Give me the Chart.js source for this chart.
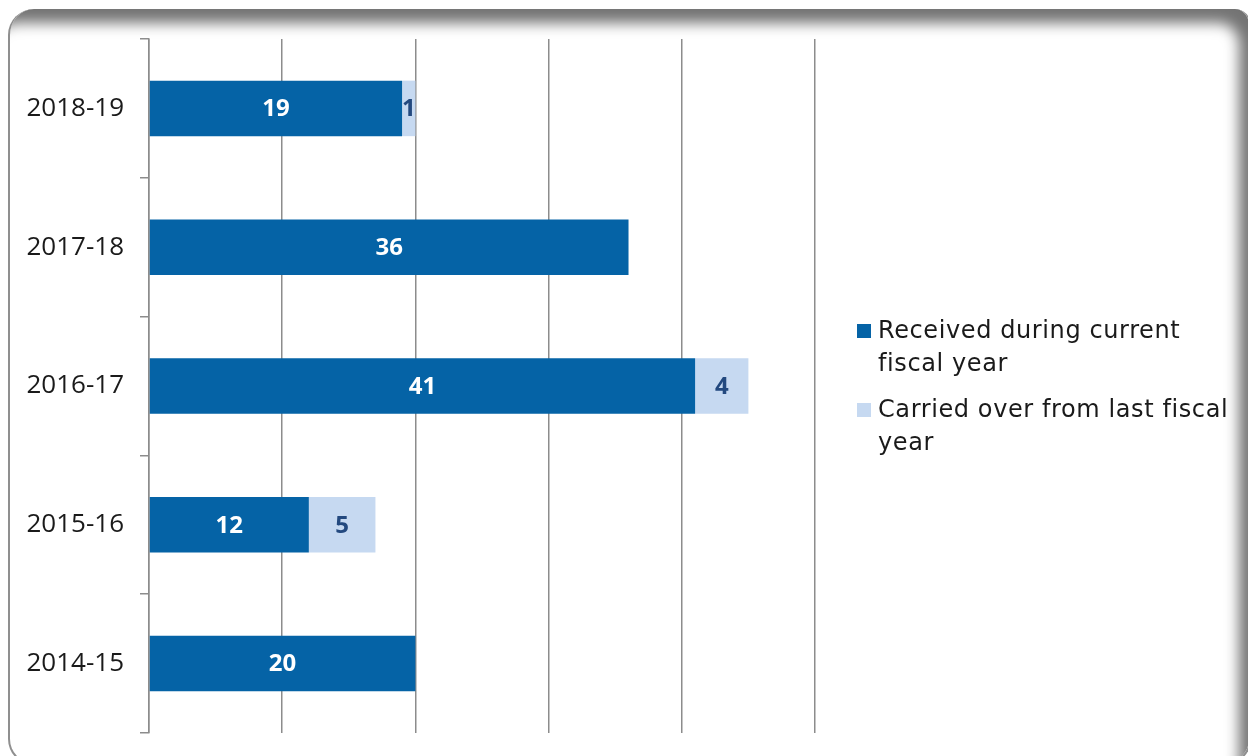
<!DOCTYPE html>
<html>
<head>
<meta charset="utf-8">
<script src="https://cdn.jsdelivr.net/npm/chart.js@4.4.1/dist/chart.umd.min.js"></script>
<style>
  html, body { margin: 0; padding: 0; background: #fff; }
  body { width: 1248px; height: 756px; position: relative; overflow: hidden; }
  .frame {
    position: absolute; left: 8px; top: 9px; width: 1243px; height: 756px;
    border: 2px solid #8f8f8f; border-top: none; border-radius: 26px 16px 26px 26px;
    box-shadow: inset -16px 20px 14px -6px rgba(0, 0, 0, 0.55);
    box-sizing: border-box; background: #fff;
  }
  #chart { position: absolute; left: 0; top: 0; }
  .legend {
    position: absolute; left: 857px; top: 314px;
    font-family: "DejaVu Sans", sans-serif; font-size: 24px; line-height: 33px;
    letter-spacing: 0.6px; color: #1a1a1a;
  }
  .legend .item { position: relative; padding-left: 21px; margin-bottom: 13px; }
  .legend .box { position: absolute; left: 0; top: 10px; width: 14px; height: 14px; }
</style>
</head>
<body>
<div class="frame"></div>
<canvas id="chart" width="1248" height="756"></canvas>
<div class="legend" id="legend"></div>
<script>
const years = ["2018-19", "2017-18", "2016-17", "2015-16", "2014-15"];
const received = [19, 36, 41, 12, 20];
const carried = [1, 0, 4, 5, 0];
const seriesNames = [["Received during current", "fiscal year"], ["Carried over from last fiscal", "year"]];
const xTicks = [0, 10, 20, 30, 40, 50];

const darkBlue = "#0563a6";
const lightBlue = "#c6d9f1";

// value labels centred inside each bar segment
const barLabels = {
  id: "barLabels",
  afterDatasetsDraw(chart) {
    const ctx = chart.ctx;
    ctx.save();
    ctx.font = "bold 24px 'Open Sans', sans-serif";
    ctx.textAlign = "center";
    ctx.textBaseline = "middle";
    chart.data.datasets.forEach((ds, i) => {
      const meta = chart.getDatasetMeta(i);
      ctx.fillStyle = i === 0 ? "#ffffff" : "#23497f";
      meta.data.forEach((bar, j) => {
        const v = ds.data[j];
        if (!v) return;
        const p = bar.getCenterPoint();
        ctx.fillText(String(v), p.x, p.y + 1);
      });
    });
    ctx.restore();
  }
};

const gridGray = "#8c8c8c";

const chart = new Chart(document.getElementById("chart"), {
  type: "bar",
  data: {
    labels: years,
    datasets: [
      { label: seriesNames[0].join(" "), data: received, backgroundColor: darkBlue },
      { label: seriesNames[1].join(" "), data: carried, backgroundColor: lightBlue }
    ]
  },
  options: {
    indexAxis: "y",
    responsive: false,
    animation: false,
    events: [],
    layout: { padding: { left: 0, top: 39, right: 433, bottom: 23 } },
    datasets: { bar: { categoryPercentage: 1, barPercentage: 0.4 } },
    scales: {
      x: {
        stacked: true,
        min: xTicks[0],
        max: xTicks[xTicks.length - 1],
        afterBuildTicks: (scale) => { scale.ticks = xTicks.map((v) => ({ value: v })); },
        afterFit: (scale) => { scale.height = 0; },
        ticks: { display: false },
        border: { display: false },
        grid: { color: gridGray, lineWidth: 1.5, drawTicks: false }
      },
      y: {
        stacked: true,
        afterFit: (scale) => {
          scale.width = 149;
          // labels sit in the middle of their bands, no end room needed
          scale.paddingTop = 0;
          scale.paddingBottom = 0;
        },
        ticks: {
          padding: 16,
          color: "#1a1a1a",
          font: { family: "'Open Sans', sans-serif", size: 26 }
        },
        border: { color: gridGray, width: 1.5 },
        grid: { offset: true, drawOnChartArea: false, tickLength: 9, color: gridGray, lineWidth: 1.5 }
      }
    },
    plugins: {
      legend: { display: false },
      tooltip: { enabled: false }
    }
  },
  plugins: [barLabels]
});

// legend on the right, lines broken as in the series names
const legendEl = document.getElementById("legend");
chart.data.datasets.forEach((ds, i) => {
  const item = document.createElement("div");
  item.className = "item";
  const box = document.createElement("span");
  box.className = "box";
  box.style.background = ds.backgroundColor;
  item.appendChild(box);
  seriesNames[i].forEach((line, k) => {
    if (k > 0) item.appendChild(document.createElement("br"));
    item.appendChild(document.createTextNode(line));
  });
  legendEl.appendChild(item);
});
</script>
</body>
</html>
